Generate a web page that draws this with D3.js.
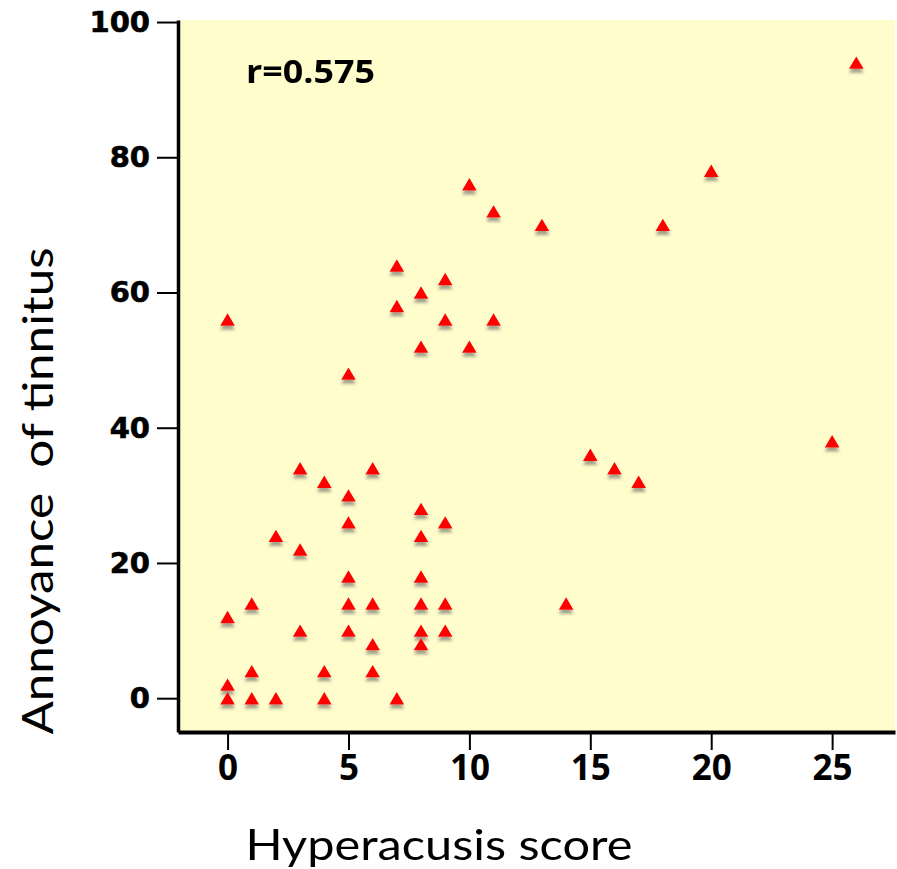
<!DOCTYPE html>
<html>
<head>
<meta charset="utf-8">
<script src="https://cdn.jsdelivr.net/npm/d3@7"></script>
<style>
  html, body { margin: 0; padding: 0; background: #ffffff; }
  svg { display: block; }
</style>
</head>
<body>
<svg id="chart" width="897" height="869"></svg>
<script>
// Hyperacusis score (x) vs. annoyance of tinnitus (y), one entry per subject
const hyperacusis = [
  0, 7, 9, 8, 7, 9, 11, 8, 10, 5,
  3, 6, 4, 5, 8, 9, 5, 2, 8, 3,
  5, 8, 1, 5, 6, 8, 9, 0, 3, 5,
  8, 9, 6, 8, 1, 4, 6, 0, 0, 1,
  2, 4, 7,
  10, 11, 13, 18, 20, 25,
  15, 16, 17, 14, 26
];
const annoyance = [
  56, 64, 62, 60, 58, 56, 56, 52, 52, 48,
  34, 34, 32, 30, 28, 26, 26, 24, 24, 22,
  18, 18, 14, 14, 14, 14, 14, 12, 10, 10,
  10, 10, 8, 8, 4, 4, 4, 2, 0, 0,
  0, 0, 0,
  76, 72, 70, 70, 78, 38,
  36, 34, 32, 14, 94
];
const xTicks = [0, 5, 10, 15, 20, 25];
const yTicks = [0, 20, 40, 60, 80, 100];
const correlationLabel = "r=0.575";
const xTitle = "Hyperacusis score";
const yTitle = "Annoyance  of tinnitus";

const points = hyperacusis.map((x, i) => ({ x, y: annoyance[i] }));

const frame = { left: 178, right: 895, top: 20, bottom: 732 };

const x = d3.scaleLinear().domain([-2.05, 27.6]).range([frame.left, frame.right]);
const y = d3.scaleLinear().domain([-5, 100.3]).range([frame.bottom, frame.top]);

const svg = d3.select("#chart");

// drop shadow under the markers
const defs = svg.append("defs");
const shadow = defs.append("filter").attr("id", "markerShadow")
  .attr("x", "-50%").attr("y", "-50%").attr("width", "200%").attr("height", "250%");
shadow.append("feDropShadow")
  .attr("dx", 0).attr("dy", 4).attr("stdDeviation", 1.6)
  .attr("flood-color", "#555").attr("flood-opacity", 0.55);

// plot background
svg.append("rect")
  .attr("x", frame.left).attr("y", frame.top)
  .attr("width", frame.right - frame.left).attr("height", frame.bottom - frame.top)
  .attr("fill", "#fffdcc");

// axes
const yTickFont = "'DejaVu Sans', Verdana, sans-serif";
const xTickFont = "'Open Sans', 'Noto Sans', sans-serif";

const yAxis = svg.append("g")
  .attr("transform", `translate(${frame.left},0)`)
  .call(d3.axisLeft(y).tickValues(yTicks).tickSize(21).tickSizeOuter(0).tickPadding(7));
yAxis.select(".domain").attr("stroke", "#000").attr("stroke-width", 3.5);
yAxis.selectAll(".tick line").attr("stroke", "#000").attr("stroke-width", 2);
yAxis.selectAll(".tick text")
  .attr("font-family", yTickFont).attr("font-weight", "bold")
  .attr("font-size", 29).attr("fill", "#000")
  .attr("stroke", "#000").attr("stroke-width", 0.6);

const xAxis = svg.append("g")
  .attr("transform", `translate(0,${frame.bottom})`)
  .call(d3.axisBottom(x).tickValues(xTicks).tickSize(18).tickSizeOuter(0).tickPadding(5));
xAxis.select(".domain").attr("stroke", "#000").attr("stroke-width", 4);
xAxis.selectAll(".tick line").attr("stroke", "#000").attr("stroke-width", 2);
xAxis.selectAll(".tick text")
  .attr("font-family", xTickFont).attr("font-weight", "bold")
  .attr("font-size", 35).attr("fill", "#000");

// markers: upward red triangles centred on each data point
const tri = "M0,-6.2L7.3,6.2L-7.3,6.2Z";
svg.append("g")
  .attr("filter", "url(#markerShadow)")
  .selectAll("path")
  .data(points)
  .join("path")
  .attr("d", tri)
  .attr("transform", d => `translate(${x(d.x)},${y(d.y)})`)
  .attr("fill", "#ff0000");

// correlation annotation
svg.append("text")
  .attr("x", 246).attr("y", 83)
  .attr("font-family", "'Open Sans', sans-serif")
  .attr("font-weight", "bold").attr("font-size", 32)
  .attr("textLength", 129).attr("lengthAdjust", "spacingAndGlyphs")
  .attr("fill", "#000")
  .text(correlationLabel);

// axis titles
const titleFont = "Lato, 'Open Sans', sans-serif";
svg.append("text")
  .attr("x", 439).attr("y", 860)
  .attr("text-anchor", "middle")
  .attr("font-family", titleFont).attr("font-size", 42)
  .attr("textLength", 387).attr("lengthAdjust", "spacingAndGlyphs")
  .attr("fill", "#000")
  .text(xTitle);

svg.append("text")
  .attr("transform", `translate(53,491) rotate(-90)`)
  .attr("text-anchor", "middle")
  .style("white-space", "pre")
  .attr("font-family", titleFont).attr("font-size", 42)
  .attr("textLength", 487).attr("lengthAdjust", "spacingAndGlyphs")
  .attr("fill", "#000")
  .text(yTitle);
</script>
</body>
</html>
